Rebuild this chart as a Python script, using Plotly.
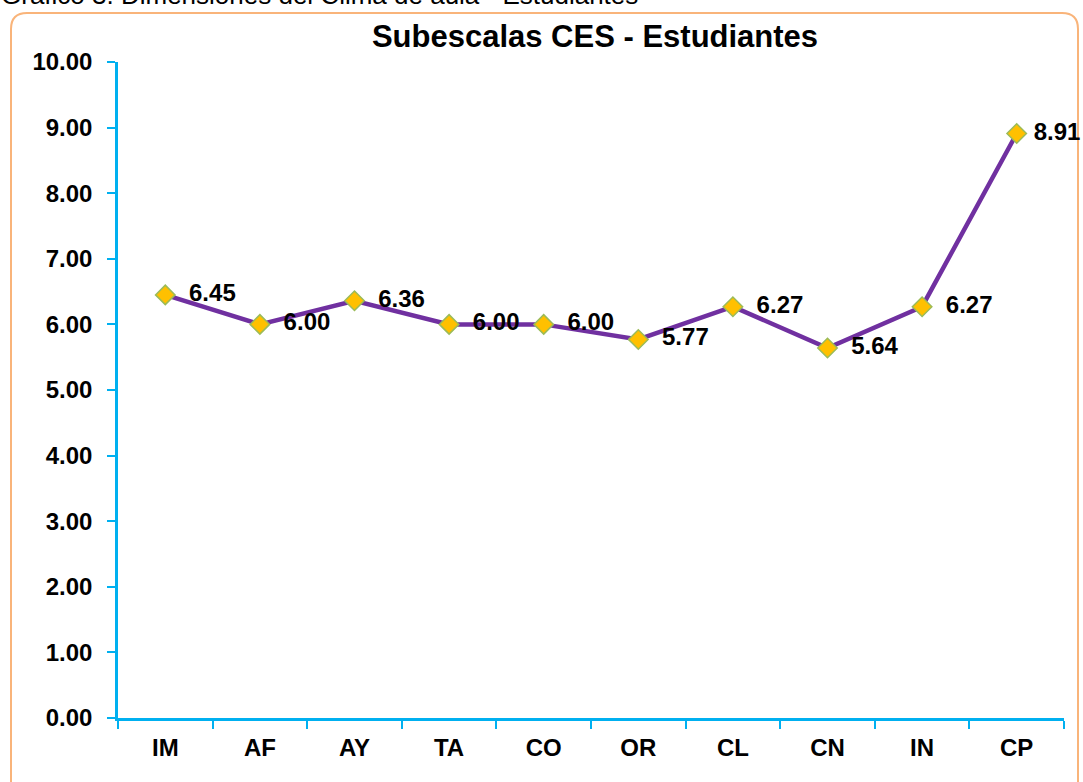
import plotly.graph_objects as go

categorias = ['IM', 'AF', 'AY', 'TA', 'CO', 'OR', 'CL', 'CN', 'IN', 'CP']
valores = [6.45, 6.00, 6.36, 6.00, 6.00, 5.77, 6.27, 5.64, 6.27, 8.91]
ticks_y = [0, 1, 2, 3, 4, 5, 6, 7, 8, 9, 10]

W, H = 1083, 782
L, R, T, B = 118, 19, 62, 64
pw, ph = W - L - R, H - T - B

def px(x):
    return (x - L) / pw

def py(y):
    return (H - B - y) / ph

fuente = "Liberation Sans, Arial, sans-serif"
azul = "#00B0F0"

# el ultimo rotulo va mas pegado al punto (si no, se corta por la derecha)
etiquetas = ["  <b>%.2f</b>" % v for v in valores]
etiquetas[-1] = " <b>%.2f</b>" % valores[-1]

fig = go.Figure()
fig.add_trace(go.Scatter(
    x=categorias, y=valores,
    mode="lines+markers+text",
    line=dict(color="#7030A0", width=4.5),
    marker=dict(symbol="diamond", size=15, color="#FFC000",
                line=dict(color="#9BBB59", width=1.5)),
    text=etiquetas,
    textposition="middle right",
    textfont=dict(family=fuente, size=24, color="black"),
    cliponaxis=False,
    showlegend=False,
))

# borde redondeado del grafico
x0, x1, y0, y1, r = 11, 1078, 13, 800, 16
path = (f"M {px(x0)},{py(y0 + r)} Q {px(x0)},{py(y0)} {px(x0 + r)},{py(y0)} "
        f"L {px(x1 - r)},{py(y0)} Q {px(x1)},{py(y0)} {px(x1)},{py(y0 + r)} "
        f"L {px(x1)},{py(y1)} L {px(x0)},{py(y1)} Z")
fig.add_shape(type="path", path=path, xref="paper", yref="paper",
              line=dict(color="#F9B47A", width=2), layer="below")

fig.add_annotation(text="Gráfico 3. Dimensiones del Clima de aula - Estudiantes",
                   xref="paper", yref="paper", x=px(-1), y=py(12),
                   xanchor="left", yanchor="bottom", showarrow=False,
                   font=dict(family=fuente, size=26, color="black"))

fig.update_layout(
    width=W, height=H,
    margin=dict(l=L, r=R, t=T, b=B, autoexpand=False),
    paper_bgcolor="white", plot_bgcolor="white",
    title=dict(text="<b>Subescalas CES - Estudiantes</b>",
               x=595 / W, xanchor="center", y=1 - 36 / H, yanchor="middle",
               font=dict(family=fuente, size=31, color="black")),
    font=dict(family=fuente, color="black"),
)
fig.update_xaxes(
    type="category", tickson="boundaries", range=[-0.5, len(categorias) - 0.5],
    tickvals=categorias, ticktext=["<b>%s</b>" % c for c in categorias],
    showline=True, linecolor=azul, linewidth=2.5,
    ticks="outside", ticklen=8, tickcolor=azul, tickwidth=2,
    showgrid=False, zeroline=False, ticklabelstandoff=6,
    tickfont=dict(family=fuente, size=24, color="black"),
)
fig.update_yaxes(
    range=[0, 10], tickvals=ticks_y,
    ticktext=["<b>%.2f</b>" % v for v in ticks_y],
    showline=True, linecolor=azul, linewidth=2.5,
    ticks="outside", ticklen=8, tickcolor=azul, tickwidth=2,
    showgrid=False, zeroline=False, ticklabelstandoff=10,
    tickfont=dict(family=fuente, size=24, color="black"),
)

fig.write_html("out.html", config={"displayModeBar": False},
               post_script="document.body.style.margin='0';"
                           "document.body.style.overflow='hidden';")
